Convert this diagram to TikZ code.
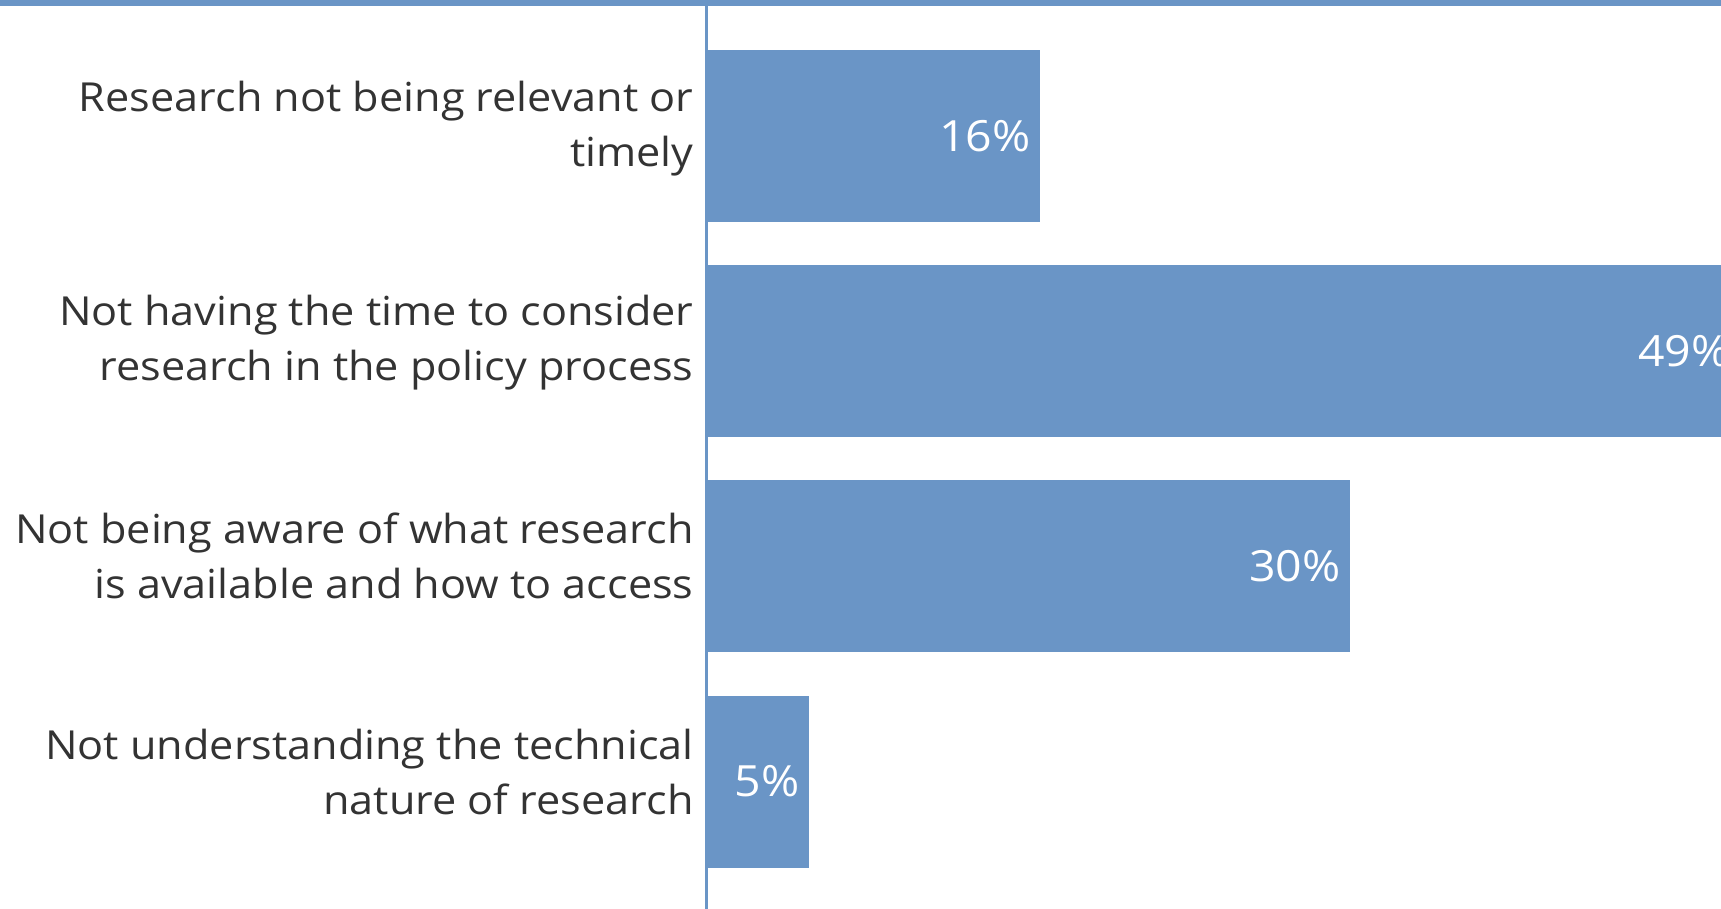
\documentclass[tikz,border=0pt]{standalone}
\usepackage{fontspec}
\setmainfont[FakeStretch=1.08]{Open Sans}
\definecolor{barblue}{HTML}{6A95C6}
\definecolor{textgrey}{HTML}{333333}
\begin{document}
\begin{tikzpicture}[
    x=0.5pt, y=-0.5pt,
    bar/.style={fill=barblue, draw=none, minimum height=86pt, inner sep=0pt, anchor=west},
    value/.style={font=\fontsize{21.5}{25}\selectfont, text=white, anchor=east, inner sep=0pt},
    label/.style={font=\fontsize{20}{27.5}\selectfont, text=textgrey, align=right, anchor=east, inner sep=0pt}
]
\useasboundingbox (0,0) rectangle (1721,909);
\clip (0,0) rectangle (1721,909);

% Top rule
\fill[barblue] (0,0) rectangle (1721,6);

% Bars
\node[bar, minimum width=167pt] (bar1) at (706,136) {};
\node[bar, minimum width=516.5pt] (bar2) at (706,351) {};
\node[bar, minimum width=322pt] (bar3) at (706,566) {};
\node[bar, minimum width=51.5pt] (bar4) at (706,781.5) {};

% Axis
\coordinate (axtop) at (706,6);
\coordinate (axbot) at (706,909);
\draw[barblue, line width=1.5pt] (axtop) -- (axbot);

% Values
\node[value] (val1) at ([xshift=-5pt]bar1.east) {16\%};
\node[value] (val2) at ([xshift=-5pt]bar2.east) {49\%};
\node[value] (val3) at ([xshift=-5pt]bar3.east) {30\%};
\node[value] (val4) at ([xshift=-5pt]bar4.east) {5\%};

% Category labels
\node[label] (lab1) at (694,129) {Research not being relevant or\\timely};
\node[label] (lab2) at (694,343) {Not having the time to consider\\research in the policy process};
\node[label] (lab3) at (694,556) {Not being aware of what research\\is available and how to access};
\node[label] (lab4) at (694,771.5) {Not understanding the technical\\nature of research};

\end{tikzpicture}
\end{document}
